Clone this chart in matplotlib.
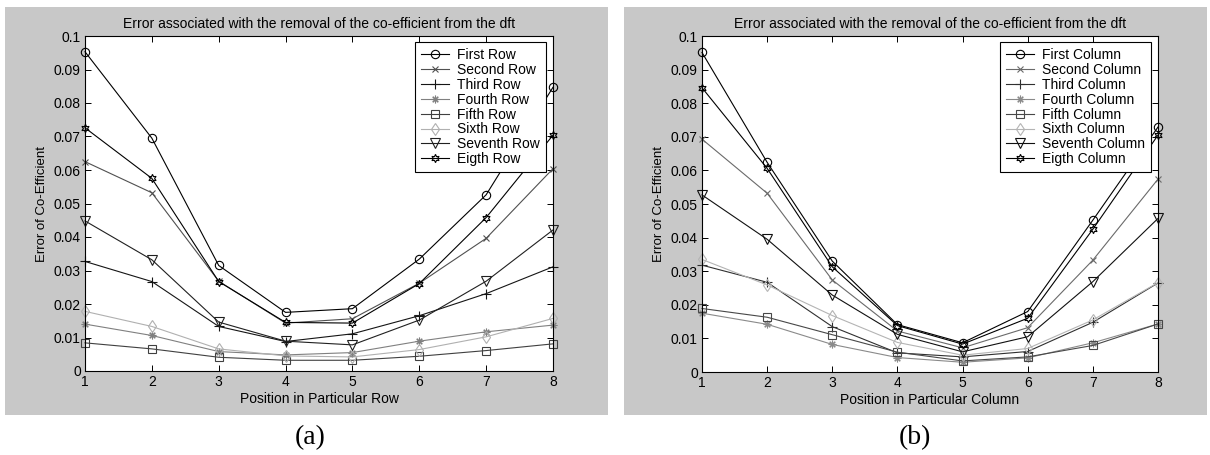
import matplotlib
matplotlib.use("Agg")
import matplotlib.pyplot as plt
from matplotlib.patches import Rectangle

plt.rcParams["font.family"] = ["Liberation Sans", "DejaVu Sans"]

positions = [1, 2, 3, 4, 5, 6, 7, 8]
ordinals = ["First", "Second", "Third", "Fourth", "Fifth", "Sixth", "Seventh", "Eigth"]

# (a) error when a coefficient of a given row is removed
row_first = [0.0953, 0.0695, 0.0315, 0.0175, 0.0186, 0.0334, 0.0526, 0.0847]
row_second = [0.0625, 0.0532, 0.0268, 0.0143, 0.0156, 0.0262, 0.0396, 0.0604]
row_third = [0.0327, 0.0267, 0.0133, 0.0088, 0.0111, 0.0165, 0.0231, 0.0311]
row_fourth = [0.0140, 0.0106, 0.0058, 0.0048, 0.0055, 0.0089, 0.0117, 0.0137]
row_fifth = [0.0084, 0.0066, 0.0041, 0.0032, 0.0032, 0.0044, 0.0061, 0.0081]
row_sixth = [0.0178, 0.0133, 0.0066, 0.0045, 0.0042, 0.0064, 0.0102, 0.0157]
row_seventh = [0.0448, 0.0332, 0.0146, 0.0089, 0.0078, 0.0152, 0.0268, 0.0421]
row_eighth = [0.0726, 0.0575, 0.0267, 0.0145, 0.0143, 0.0261, 0.0458, 0.0704]

# (b) error when a coefficient of a given column is removed
col_first = [0.0951, 0.0624, 0.0330, 0.0141, 0.0087, 0.0180, 0.0452, 0.0729]
col_second = [0.0693, 0.0532, 0.0274, 0.0122, 0.0072, 0.0132, 0.0333, 0.0574]
col_third = [0.0318, 0.0267, 0.0135, 0.0057, 0.0045, 0.0061, 0.0148, 0.0265]
col_fourth = [0.0175, 0.0142, 0.0082, 0.0043, 0.0029, 0.0042, 0.0087, 0.0143]
col_fifth = [0.0189, 0.0163, 0.0111, 0.0059, 0.0033, 0.0045, 0.0079, 0.0143]
col_sixth = [0.0335, 0.0259, 0.0168, 0.0088, 0.0050, 0.0070, 0.0155, 0.0266]
col_seventh = [0.0527, 0.0395, 0.0229, 0.0112, 0.0060, 0.0105, 0.0269, 0.0457]
col_eighth = [0.0846, 0.0606, 0.0313, 0.0138, 0.0083, 0.0160, 0.0425, 0.0705]

rows = [row_first, row_second, row_third, row_fourth,
        row_fifth, row_sixth, row_seventh, row_eighth]
cols = [col_first, col_second, col_third, col_fourth,
        col_fifth, col_sixth, col_seventh, col_eighth]

title_text = "Error associated with the removal of the co-efficient from the dft"
y_label = "Error of Co-Efficient"
y_ticks = [0, 0.01, 0.02, 0.03, 0.04, 0.05, 0.06, 0.07, 0.08, 0.09, 0.1]
y_ticklabels = ["0", "0.01", "0.02", "0.03", "0.04", "0.05",
                "0.06", "0.07", "0.08", "0.09", "0.1"]

# marker styles: circle, x, plus, asterisk, square, diamond, triangle, hexagram
markers = ["o", "x", "+", (8, 2, 0), "s", "d", "v", (6, 1, 0)]
sizes = [6.0, 4.0, 6.5, 5.5, 6.0, 6.0, 6.5, 6.0]
row_colors = ["#000000", "#505050", "#151515", "#808080",
              "#404040", "#b0b0b0", "#202020", "#000000"]
col_colors = ["#000000", "#6a6a6a", "#303030", "#8a8a8a",
              "#484848", "#b4b4b4", "#101010", "#000000"]

W, H = 1210, 455
fig = plt.figure(figsize=(W / 100, H / 100), dpi=100)
fig.patch.set_facecolor("white")

# grey figure panels behind each axes
for (x0, x1) in [(5, 608), (624, 1207)]:
    fig.patches.append(Rectangle((x0 / W, 1 - 415 / H), (x1 - x0) / W, (415 - 7) / H,
                                 transform=fig.transFigure, facecolor="#c8c8c8",
                                 edgecolor="none", zorder=-5))


def draw_panel(rect, series, colors, kind, caption, cap_x):
    ax = fig.add_axes(rect)
    ax.set_zorder(2)
    ax.set_facecolor("white")
    for vals, name, mk, ms, c in zip(series, ordinals, markers, sizes, colors):
        ax.plot(positions, vals, marker=mk, markersize=ms, color=c,
                markerfacecolor="none", markeredgecolor=c,
                markeredgewidth=0.8, linewidth=0.8,
                label=f"{name} {kind}", clip_on=False)
    ax.set_xlim(1, 8)
    ax.set_ylim(0, 0.1)
    ax.set_xticks(positions)
    ax.set_yticks(y_ticks)
    ax.set_yticklabels(y_ticklabels)
    ax.tick_params(direction="in", length=4, width=0.7, top=True, right=True,
                   labelsize=10, pad=3, colors="black")
    for s in ax.spines.values():
        s.set_linewidth(0.8)
        s.set_color("black")
    ax.set_title(title_text, fontsize=10, pad=6)
    ax.set_xlabel(f"Position in Particular {kind}", fontsize=10, labelpad=2)
    ax.set_ylabel(y_label, fontsize=9.5, labelpad=4)
    leg = ax.legend(loc="upper right", bbox_to_anchor=(0.985, 0.982), fontsize=10,
                    frameon=True, fancybox=False, framealpha=1, edgecolor="black",
                    borderpad=0.45, labelspacing=0.06, handlelength=2.0,
                    handletextpad=0.6, borderaxespad=0)
    leg.get_frame().set_linewidth(0.8)
    fig.text(cap_x / W, 1 - 438 / H, caption, ha="center", va="center",
             fontsize=20, family=["Liberation Serif", "DejaVu Serif"])
    return ax


draw_panel([85 / W, 1 - 371 / H, (553 - 85) / W, (371 - 36) / H],
           rows, row_colors, "Row", "(a)", 310)
draw_panel([702 / W, 1 - 372 / H, (1158 - 702) / W, (372 - 36) / H],
           cols, col_colors, "Column", "(b)", 915)

fig.savefig("out.png", dpi=100, facecolor="white")
